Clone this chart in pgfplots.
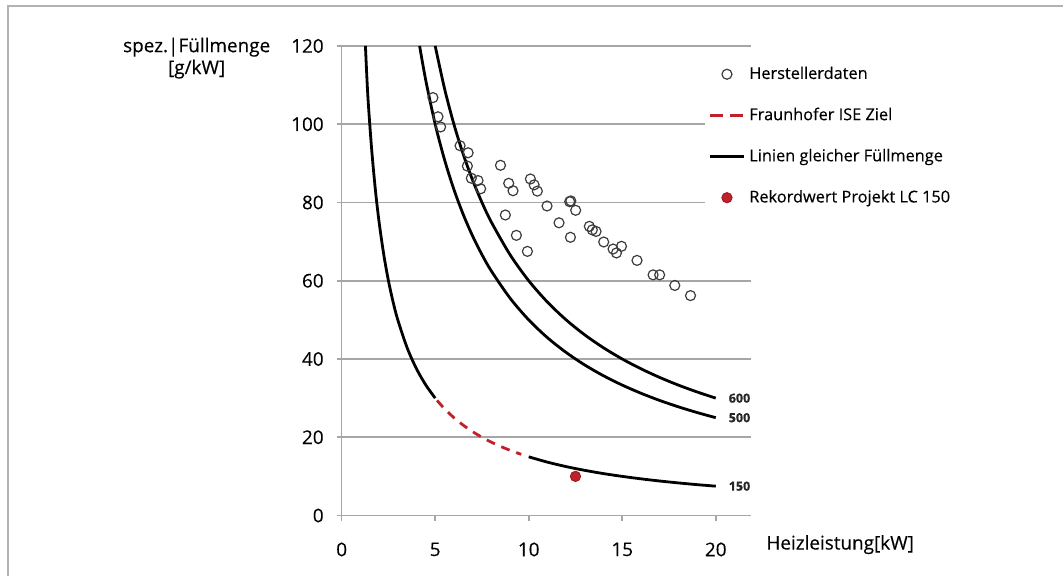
\documentclass[border=0pt]{standalone}
\usepackage{pgfplots}
\pgfplotsset{compat=1.18}
\usepackage{fontspec}
\setmainfont{Open Sans}[UprightFeatures={FakeBold=0.25}, BoldFeatures={FakeBold=0.6}]
\definecolor{gridgray}{HTML}{A6A6A6}
\definecolor{isered}{HTML}{C0202A}
\definecolor{ringgray}{HTML}{3C3C3C}
\begin{document}
\begin{tikzpicture}
% page frame of the original figure (1 px = 0.5 bp)
\path (0,0) rectangle (532bp,288.5bp);
\draw[gray!60, line width=1bp] (4bp,0) -- (4bp,285.5bp) -- (532bp,285.5bp);
\begin{axis}[
    at={(171bp,30.5bp)}, anchor=south west,
    scale only axis, width=205bp, height=235bp,
    xmin=0, xmax=21.9, ymin=0, ymax=120,
    axis x line=bottom, axis y line=left,
    axis line style={-, gridgray, line width=0.8bp},
    xtick={0,5,10,15,20}, ytick={0,20,...,120},
    tick style={gridgray, line width=0.8bp},
    tick align=outside, major tick length=2.5bp,
    ymajorgrids, grid style={gridgray, line width=0.8bp},
    /pgf/number format/assume math mode=true,
    tick label style={font=\fontsize{9.5}{11}\selectfont, text=black},
    xticklabel style={yshift=-7.5bp},
    yticklabel style={xshift=-3bp},
    xlabel={Heizleistung[kW]},
    xlabel style={at={(axis description cs:1.217,-0.062)}, anchor=center,
      font=\fontsize{9.5}{11}\selectfont, text=black},
    ylabel={spez.|Füllmenge\\{[g/kW]}},
    ylabel style={rotate=-90, at={(axis description cs:-0.354,0.974)}, anchor=center,
      align=center, font=\fontsize{9.5}{11}\selectfont, text=black},
    legend style={at={(axis description cs:0.885,0.974)}, anchor=north west,
      fill=white, draw=none, font=\fontsize{8.2}{10}\selectfont,
      text=black, row sep=8.9bp, inner sep=2bp},
    legend cell align=left,
    clip=false,
]
% manufacturer data
\addplot[only marks, mark=o, mark size=2.5bp, mark options={ringgray, line width=0.6bp}]
coordinates {
 (4.88,106.8) (5.15,101.9) (5.29,99.3) (6.33,94.5) (6.76,92.7) (6.72,89.3)
 (6.93,86.2) (7.29,85.6) (7.43,83.5) (8.49,89.5) (8.93,84.9) (9.16,83.0)
 (8.75,76.8) (9.34,71.6) (9.93,67.5) (10.09,86.0) (10.29,84.5) (10.46,82.9)
 (10.98,79.1) (11.62,74.8) (12.19,80.2) (12.25,80.4) (12.51,78.0) (12.23,71.1)
 (13.24,73.9) (13.40,73.0) (13.60,72.6) (14.01,69.9) (14.51,68.1) (14.69,67.1)
 (14.96,68.8) (15.79,65.2) (16.65,61.5) (17.0,61.5) (17.81,58.8) (18.65,56.2)
};
\addlegendentry{Herstellerdaten}
% Fraunhofer ISE target (150 g line, dashed part)
\addplot[isered, line width=1.4bp, dash pattern=on 4.5bp off 3.5bp, smooth,
  legend image code/.code={\draw[isered, line width=1.4bp, dash pattern=on 6.5bp off 3.5bp] (0cm,0cm) -- (16.5bp,0cm);}]
coordinates {
 (5.1,29.41) (5.5,27.27) (6,25) (6.5,23.08) (7,21.43) (7.5,20) (8,18.75)
 (8.5,17.65) (9,16.67) (9.6,15.63)
};
\addlegendentry{Fraunhofer ISE Ziel}
% lines of equal charge
\addplot[black, line width=1.4bp, smooth] coordinates {
 (5,120) (5.5,109.09) (6,100) (6.5,92.31) (7,85.71) (7.5,80) (8,75) (9,66.67)
 (10,60) (11,54.55) (12,50) (13,46.15) (14,42.86) (15,40) (16,37.5) (17,35.29)
 (18,33.33) (19,31.58) (20,30)
};
\addlegendentry{Linien gleicher Füllmenge}
\addplot[black, line width=1.4bp, smooth, forget plot] coordinates {
 (4.1667,120) (4.5,111.11) (5,100) (5.5,90.91) (6,83.33) (6.5,76.92) (7,71.43)
 (7.5,66.67) (8,62.5) (9,55.56) (10,50) (11,45.45) (12,41.67) (13,38.46)
 (14,35.71) (15,33.33) (16,31.25) (17,29.41) (18,27.78) (19,26.32) (20,25)
};
\addplot[black, line width=1.4bp, smooth, forget plot] coordinates {
 (1.27,120) (1.4,107.14) (1.6,93.75) (1.8,83.33) (2,75) (2.25,66.67) (2.5,60)
 (2.75,54.55) (3,50) (3.5,42.86) (4,37.5) (4.5,33.33) (5,30)
};
\addplot[black, line width=1.4bp, smooth, forget plot] coordinates {
 (10,15) (11,13.64) (12,12.5) (13,11.54) (14,10.71) (15,10) (16,9.375)
 (17,8.82) (18,8.33) (19,7.89) (20,7.5)
};
% record value
\addplot[only marks, mark=*, mark size=2.6bp, mark options={fill=isered, draw=isered!80!black, line width=0.4bp}]
coordinates {(12.5,10)};
\addlegendentry{Rekordwert Projekt LC 150}
% curve labels
\node[anchor=west, font=\fontsize{6.3}{7}\selectfont\bfseries, text=black!85, xshift=3bp] at (axis cs:20,30) {600};
\node[anchor=west, font=\fontsize{6.3}{7}\selectfont\bfseries, text=black!85, xshift=3bp] at (axis cs:20,25) {500};
\node[anchor=west, font=\fontsize{6.3}{7}\selectfont\bfseries, text=black!85, xshift=3bp] at (axis cs:20,7.5) {150};
\end{axis}
\end{tikzpicture}
\end{document}
